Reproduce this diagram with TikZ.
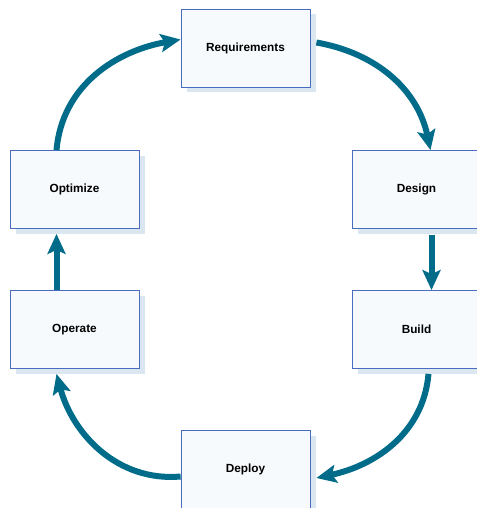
\documentclass[tikz,border=0pt]{standalone}
\usepackage{fontspec}
\setmainfont{Liberation Sans}
\usetikzlibrary{arrows.meta,shadows}
\definecolor{flowteal}{RGB}{0,108,138}
\definecolor{boxline}{RGB}{74,108,190}
\definecolor{boxfill}{RGB}{247,250,252}
\definecolor{boxshade}{RGB}{218,230,240}

\begin{document}
\begin{tikzpicture}[x=1pt,y=-1pt,
  stage/.style={rectangle, draw=boxline, line width=0.8pt, fill=boxfill,
    minimum width=129pt, minimum height=78pt,
    font=\fontsize{11.8}{13}\selectfont\bfseries,
    drop shadow={shadow xshift=6pt, shadow yshift=-5pt, fill=boxshade, opacity=1}},
  flow/.style={draw=flowteal, line width=6pt,
    -{Stealth[length=20pt,width=18pt,inset=4pt]}}]
  \useasboundingbox (0,0) rectangle (476,508);
  \node (requirements) [stage] at (245.5,48.5) {Requirements};
  \node (design) [stage] at (416.5,189.5) {Design};
  \node (build) [stage] at (416.5,329.5) {Build};
  \node (deploy) [stage] at (245.5,469.5) {Deploy};
  \node (operate) [stage] at (74.5,329.5) {Operate};
  \node (optimize) [stage] at (74.5,189.5) {Optimize};
  \draw[flow] ([xshift=-18pt]optimize.north) to[out=85,in=190] ([yshift=9pt]requirements.west);
  \draw[flow] ([xshift=6pt,yshift=6pt]requirements.east) to[out=-10,in=102] ([xshift=14pt]design.north);
  \draw[flow] ([xshift=15pt,yshift=-6pt]design.south) -- ([xshift=15pt]build.north);
  \draw[flow] ([xshift=12pt,yshift=-5pt]build.south) to[out=-95,in=12] ([xshift=6pt,yshift=-8.5pt]deploy.east);
  \draw[flow] ([yshift=-7pt]deploy.west) to[out=185,in=-75] ([xshift=-18pt,yshift=-5pt]operate.south);
  \draw[flow] ([xshift=-18pt]operate.north) -- ([xshift=-18pt,yshift=-5pt]optimize.south);
\end{tikzpicture}
\end{document}
